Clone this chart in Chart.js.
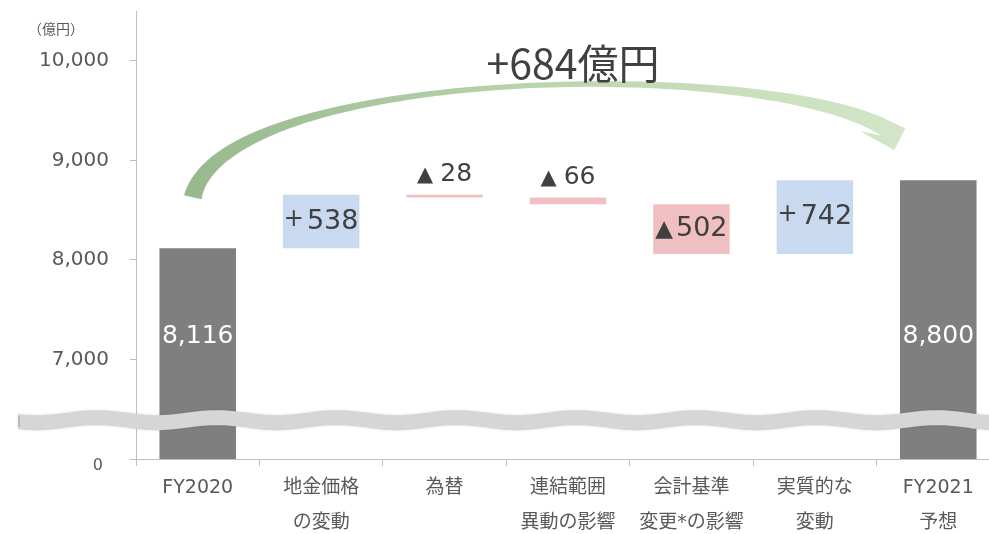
<!DOCTYPE html>
<html lang="ja">
<head>
<meta charset="utf-8">
<title>売上高 増減要因</title>
<script src="https://cdn.jsdelivr.net/npm/chart.js@4"></script>
<style>
  html, body { margin: 0; padding: 0; background: #fff; overflow: hidden; }
  #wrap { width: 1000px; height: 534px; }
</style>
</head>
<body>
<div id="wrap"><canvas id="bridge"></canvas></div>
<script>
const categories = [['FY2020'], ['地金価格', 'の変動'], ['為替'], ['連結範囲', '異動の影響'], ['会計基準', '変更*の影響'], ['実質的な', '変動'], ['FY2021', '予想']];
const startValue = 8116;
const changes = [538, -28, -66, -502, 742];
const endValue = 8800;
const totalChange = 684;
const yTicks = [6000, 7000, 8000, 9000, 10000];
const yTickLabels = ['0', '7,000', '8,000', '9,000', '10,000'];

// the axis is broken: everything below 7,000 collapses, so 0 sits where 6,000 would be
const axisFloor = 6000;
const breakAt = 6390;

const FONT = '"DejaVu Sans", "Noto Sans CJK JP", sans-serif';
const TEXT = '#404040';
const AXIS_TEXT = '#595959';

// floating ranges for the waterfall
const ranges = [[axisFloor, startValue]];
let level = startValue;
changes.forEach(c => { ranges.push([level, level + c]); level += c; });
ranges.push([axisFloor, endValue]);

const barColors = ['#7f7f7f', ...changes.map(c => c > 0 ? '#c9d9ef' : '#f0bfc2'), '#7f7f7f'];

function drawSigned(ctx, value, cx, cy, size, gap) {
  const plus = value > 0;
  const prefix = plus ? '+' : '▲';
  const preFont = Math.round(size * (plus ? 0.9 : 0.85)) + 'px ' + FONT;
  const numFont = size + 'px ' + FONT;
  const num = String(Math.abs(value));
  ctx.font = preFont;
  const pw = ctx.measureText(prefix).width;
  ctx.font = numFont;
  const nw = ctx.measureText(num).width;
  const x = cx - (pw + gap + nw) / 2;
  ctx.textAlign = 'left';
  ctx.textBaseline = 'middle';
  ctx.fillStyle = TEXT;
  ctx.font = preFont;
  ctx.fillText(prefix, x, cy + (plus ? -2 : 1));
  ctx.font = numFont;
  ctx.fillText(num, x + pw + gap, cy);
}

const labelPlugin = {
  id: 'bridgeLabels',
  afterDatasetsDraw(chart) {
    const { ctx, scales: { y } } = chart;
    const bars = chart.getDatasetMeta(0).data;
    ctx.save();
    bars.forEach((bar, i) => {
      if (i === 0 || i === bars.length - 1) {
        const v = i === 0 ? startValue : endValue;
        ctx.font = '25px ' + FONT;
        ctx.fillStyle = '#ffffff';
        ctx.textAlign = 'center';
        ctx.textBaseline = 'middle';
        ctx.fillText(v.toLocaleString('en-US'), bar.x, y.getPixelForValue(7230));
        return;
      }
      const top = Math.min(bar.y, bar.base);
      const h = Math.abs(bar.base - bar.y);
      if (h > 20) drawSigned(ctx, changes[i - 1], bar.x, top + h / 2, 27, 3);
      else drawSigned(ctx, changes[i - 1], bar.x, top - 20, 25, 7);
    });
    ctx.restore();
  }
};

// curved arrow from the FY2020 bar over to the FY2021 bar, with the total change on top
const arrowPlugin = {
  id: 'totalArrow',
  afterDatasetsDraw(chart) {
    const { ctx } = chart;
    const bars = chart.getDatasetMeta(0).data;
    const a = bars[0], b = bars[bars.length - 1];
    const p0 = { x: a.x - 5, y: a.y - 51 };
    const p3 = { x: b.x - 53, y: b.y - 52 };
    const p1 = { x: p0.x + 30, y: p0.y - 130 };
    const p2 = { x: p3.x - 125, y: p3.y - 72 };
    const pt = t => {
      const u = 1 - t;
      return {
        x: u * u * u * p0.x + 3 * u * u * t * p1.x + 3 * u * t * t * p2.x + t * t * t * p3.x,
        y: u * u * u * p0.y + 3 * u * u * t * p1.y + 3 * u * t * t * p2.y + t * t * t * p3.y
      };
    };
    const tan = t => {
      const u = 1 - t;
      const dx = 3 * u * u * (p1.x - p0.x) + 6 * u * t * (p2.x - p1.x) + 3 * t * t * (p3.x - p2.x);
      const dy = 3 * u * u * (p1.y - p0.y) + 6 * u * t * (p2.y - p1.y) + 3 * t * t * (p3.y - p2.y);
      const l = Math.hypot(dx, dy);
      return { x: dx / l, y: dy / l };
    };
    const width = t => 18 * (1 - t) * (1 - t) - 14 * t * (1 - t) + 17 * t * t;
    const upper = [], lower = [];
    const N = 80;
    for (let k = 0; k <= N; k++) {
      const t = k / N, p = pt(t), d = tan(t), w = Math.max(width(t), 4) / 2;
      upper.push({ x: p.x + d.y * w, y: p.y - d.x * w });
      lower.push({ x: p.x - d.y * w, y: p.y + d.x * w });
    }
    const grad = ctx.createLinearGradient(p0.x, 0, p3.x + 20, 0);
    grad.addColorStop(0, '#98b98d');
    grad.addColorStop(0.5, '#bcd5b0');
    grad.addColorStop(1, '#d3e7c8');
    ctx.save();
    ctx.beginPath();
    upper.forEach((q, k) => k === 0 ? ctx.moveTo(q.x, q.y) : ctx.lineTo(q.x, q.y));
    ctx.lineTo(p3.x + 20, p3.y);
    ctx.lineTo(p3.x + 9, p3.y + 22);
    ctx.lineTo(p3.x - 25, p3.y + 3);
    for (let k = lower.length - 1; k >= 0; k--) ctx.lineTo(lower[k].x, lower[k].y);
    ctx.closePath();
    ctx.fillStyle = grad;
    ctx.fill();

    ctx.font = '41px "Noto Sans CJK JP", sans-serif';
    ctx.fillStyle = TEXT;
    ctx.textAlign = 'center';
    ctx.textBaseline = 'middle';
    ctx.fillText('+' + totalChange + '億円', (a.x + b.x) / 2 + 5, 63);
    ctx.restore();
  }
};

// wavy ribbon marking the axis break, the zero label below it, unit caption
const breakPlugin = {
  id: 'axisBreak',
  afterDraw(chart) {
    const { ctx, width, scales: { y } } = chart;
    const yc = y.getPixelForValue(breakAt);
    const x0 = 18, amp = 2.5, len = 120, half = 7.5;
    const wave = x => amp * Math.sin((x - x0) / len * Math.PI * 2 + 0.6);
    ctx.save();
    ctx.beginPath();
    for (let x = x0; x <= width; x += 2) ctx.lineTo(x, yc - half + wave(x));
    for (let x = width; x >= x0; x -= 2) ctx.lineTo(x, yc + half + wave(x));
    ctx.closePath();
    ctx.shadowColor = 'rgba(0,0,0,0.12)';
    ctx.shadowBlur = 3;
    ctx.fillStyle = '#d6d6d6';
    ctx.fill();
    ctx.shadowBlur = 0;
    ctx.strokeStyle = '#b8b8b8';
    ctx.lineWidth = 2;
    ctx.beginPath();
    ctx.moveTo(x0 + 1, yc - half + wave(x0) + 2);
    ctx.lineTo(x0 + 1, yc + half + wave(x0) - 2);
    ctx.stroke();

    ctx.fillStyle = AXIS_TEXT;
    ctx.textBaseline = 'middle';
    ctx.textAlign = 'right';
    ctx.font = '16px ' + FONT;
    ctx.fillText(yTickLabels[0], y.right - 33, y.getPixelForValue(axisFloor) + 7);

    ctx.textAlign = 'left';
    ctx.font = '14px "Noto Sans CJK JP", sans-serif';
    ctx.fillText('（億円）', 28, 29);
    ctx.restore();
  }
};

new Chart(document.getElementById('bridge'), {
  type: 'bar',
  data: {
    labels: categories,
    datasets: [{
      data: ranges,
      backgroundColor: barColors,
      borderWidth: 0,
      barPercentage: 0.62,
      categoryPercentage: 1
    }]
  },
  options: {
    responsive: true,
    maintainAspectRatio: false,
    animation: false,
    layout: { padding: { top: 11, right: 0, bottom: 0, left: 0 } },
    plugins: {
      legend: { display: false },
      tooltip: { enabled: false }
    },
    scales: {
      x: {
        grid: { drawOnChartArea: false, tickLength: 7, color: '#bfbfbf', offset: true },
        border: { color: '#bfbfbf' },
        ticks: {
          color: AXIS_TEXT,
          padding: 5,
          font: { family: FONT, size: 19, lineHeight: '35px' }
        },
        afterFit(scale) {
          scale.height = 75;
          scale.paddingLeft = 0;
          scale.paddingRight = 0;
        }
      },
      y: {
        min: axisFloor,
        max: 10500,
        grid: { drawOnChartArea: false, tickLength: 6, color: '#bfbfbf' },
        border: { color: '#bfbfbf' },
        afterBuildTicks(scale) { scale.ticks = yTicks.map(v => ({ value: v })); },
        afterFit(scale) {
          scale.width = 136;
          scale.paddingTop = 0;
          scale.paddingBottom = 0;
        },
        ticks: {
          color: AXIS_TEXT,
          padding: 21,
          font: { family: FONT, size: 20 },
          // the zero label sits a little lower, it is drawn with the break ribbon
          callback: (value, i) => value === axisFloor ? '' : yTickLabels[i]
        }
      }
    }
  },
  plugins: [labelPlugin, arrowPlugin, breakPlugin]
});
</script>
</body>
</html>
